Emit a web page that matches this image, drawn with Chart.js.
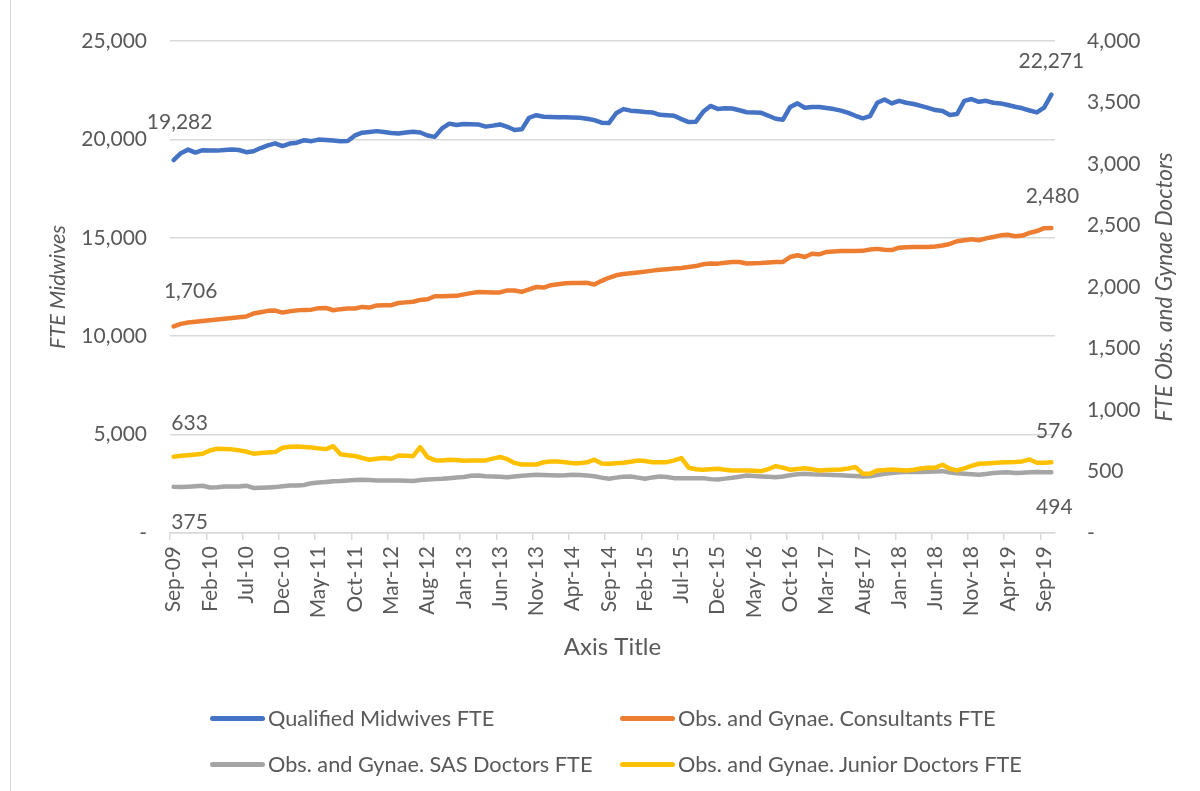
<!DOCTYPE html>
<html>
<head>
<meta charset="utf-8">
<script src="https://cdn.jsdelivr.net/npm/chart.js@4.4.1/dist/chart.umd.min.js"></script>
<style>
  body { margin: 0; background: #fff; font-family: Lato, sans-serif; }
  #wrap { position: relative; width: 1200px; height: 791px; overflow: hidden; }
  #chart { position: absolute; left: 0; top: 0; }
  #frame { position: absolute; left: 10px; top: 0; width: 0; height: 791px; border-left: 1.5px solid #d9d9d9; }
  .item { position: absolute; display: flex; align-items: center; transform: translateY(-50%);
          font: 21.7px Lato, sans-serif; color: #595959; white-space: nowrap; }
  .swatch { display: inline-block; width: 55px; height: 5px; border-radius: 3px; margin-right: 3px; }
</style>
</head>
<body>
<div id="wrap">
  <div id="frame"></div>
  <canvas id="chart" width="1200" height="791"></canvas>
  <div id="legend"></div>
</div>
<script>
// Series, monthly Sep-09 .. Oct-19
const midwives = [
  18950, 19300, 19480, 19330, 19450, 19440, 19430, 19460, 19490, 19460,
  19350, 19400, 19560, 19700, 19800, 19660, 19790, 19830, 19960, 19910,
  19990, 19970, 19940, 19910, 19920, 20200, 20340, 20380, 20420, 20380,
  20330, 20300, 20350, 20390, 20350, 20200, 20130, 20560, 20800, 20730,
  20780, 20770, 20760, 20650, 20700, 20760, 20640, 20480, 20510, 21100,
  21230, 21150, 21140, 21120, 21120, 21110, 21100, 21050, 20980, 20850,
  20830, 21330, 21540, 21460, 21430, 21390, 21370, 21250, 21230, 21200,
  21030, 20880, 20900, 21400, 21700, 21550, 21580, 21570, 21480, 21380,
  21370, 21350, 21200, 21050, 21000, 21650, 21830, 21610, 21650, 21650,
  21600, 21540, 21460, 21350, 21200, 21070, 21180, 21860, 22030, 21830,
  21960, 21860, 21800, 21700, 21600, 21490, 21440, 21240, 21290, 21960,
  22050, 21910, 21960, 21860, 21830, 21750, 21660, 21580, 21470, 21370,
  21620, 22271
];
const consultants = [
  1680, 1700, 1712, 1718, 1724, 1729, 1735, 1742, 1748, 1754,
  1760, 1784, 1795, 1806, 1808, 1792, 1802, 1810, 1814, 1816,
  1828, 1830, 1811, 1820, 1825, 1825, 1838, 1833, 1850, 1851,
  1852, 1870, 1875, 1880, 1895, 1900, 1925, 1925, 1926, 1928,
  1940, 1950, 1960, 1958, 1955, 1956, 1972, 1972, 1960, 1980,
  2000, 1995, 2015, 2022, 2030, 2033, 2033, 2034, 2020, 2050,
  2075, 2095, 2105, 2111, 2118, 2125, 2133, 2140, 2145, 2150,
  2155, 2162, 2170, 2185, 2191, 2190, 2198, 2204, 2203, 2191,
  2194, 2196, 2200, 2203, 2204, 2244, 2258, 2244, 2270, 2266,
  2285, 2288, 2292, 2293, 2293, 2294, 2305, 2310, 2302, 2300,
  2320, 2324, 2326, 2326, 2326, 2330, 2338, 2350, 2372, 2380,
  2389, 2380, 2395, 2407, 2420, 2425, 2413, 2418, 2440, 2455,
  2478, 2480
];
const sasDoctors = [
  375, 373, 376, 380, 384, 370, 372, 378, 378, 378,
  385, 366, 368, 370, 373, 380, 387, 387, 390, 405,
  410, 415, 420, 422, 426, 430, 433, 430, 427, 427,
  427, 426, 424, 422, 430, 435, 438, 441, 446, 452,
  456, 465, 468, 462, 460, 457, 454, 460, 466, 470,
  474, 472, 470, 468, 470, 474, 472, 468, 462, 450,
  441, 450, 458, 460, 450, 441, 452, 460, 455, 446,
  446, 446, 446, 446, 438, 435, 442, 449, 458, 468,
  464, 460, 457, 454, 460, 470, 478, 482, 478, 476,
  474, 472, 470, 466, 463, 460, 462, 472, 482, 488,
  494, 495, 495, 495, 498, 500, 503, 492, 486, 482,
  478, 474, 480, 487, 492, 494, 487, 490, 494, 495,
  494, 494
];
const juniorDoctors = [
  620, 628, 633, 638, 644, 671, 685, 682, 680, 672,
  662, 645, 650, 655, 658, 693, 702, 703, 699, 695,
  688, 682, 706, 640, 632, 626, 610, 596, 603, 609,
  604, 630, 628, 625, 698, 617, 592, 590, 595, 594,
  588, 590, 589, 590, 605, 618, 600, 570, 557, 557,
  557, 575, 582, 582, 575, 568, 568, 575, 596, 565,
  563, 567, 571, 580, 590, 585, 576, 576, 576, 590,
  609, 531, 518, 514, 518, 522, 515, 509, 509, 509,
  506, 503, 520, 544, 531, 514, 520, 527, 518, 509,
  512, 515, 517, 524, 536, 482, 482, 509, 512, 517,
  513, 509, 515, 524, 530, 531, 555, 522, 509, 525,
  545, 563, 566, 570, 573, 576, 578, 582, 598, 571,
  571, 576
];

// labelled values (first / last)
const startLabels = [19282, 1706, 375, 633];
const endLabels = [22271, 2480, 494, 576];

const seriesNames = [
  "Qualified Midwives FTE",
  "Obs. and Gynae. Consultants FTE",
  "Obs. and Gynae. SAS Doctors FTE",
  "Obs. and Gynae. Junior Doctors FTE"
];
const seriesColors = ["#4472C4", "#ED7D31", "#A5A5A5", "#FFC000"];

// month categories
const monthNames = ["Jan", "Feb", "Mar", "Apr", "May", "Jun", "Jul", "Aug", "Sep", "Oct", "Nov", "Dec"];
const months = [];
for (let i = 0; i < midwives.length; i++) {
  const m = 8 + i;
  months.push(monthNames[m % 12] + "-" + String(9 + Math.floor(m / 12)).padStart(2, "0"));
}

const textColor = "#595959";
const gridColor = "#d9d9d9";
const tickFont = { family: "Lato", size: 21 };

// label offsets from the point, [dx, dy]
const labelOffsets = [
  { start: [6, -38], end: [0, -33] },
  { start: [17, -35], end: [1, -32] },
  { start: [16, 35], end: [3, 35] },
  { start: [16, -34], end: [3, -31] }
];

const labelPlugin = {
  id: "valueLabels",
  afterDatasetsDraw(chart) {
    const ctx = chart.ctx;
    ctx.save();
    ctx.font = "21px Lato";
    ctx.fillStyle = textColor;
    ctx.textAlign = "center";
    ctx.textBaseline = "middle";
    chart.data.datasets.forEach((ds, d) => {
      const pts = chart.getDatasetMeta(d).data;
      const first = pts[0];
      const last = pts[pts.length - 1];
      const o = labelOffsets[d];
      ctx.fillText(startLabels[d].toLocaleString("en-US"), first.x + o.start[0], first.y + o.start[1]);
      ctx.fillText(endLabels[d].toLocaleString("en-US"), last.x + o.end[0], last.y + o.end[1]);
    });
    // secondary axis title, reads bottom to top like the primary one
    const area = chart.chartArea;
    ctx.font = "italic 22.5px Lato";
    ctx.translate(chart.scales.y1.right - 35, (area.top + area.bottom) / 2);
    ctx.rotate(-Math.PI / 2);
    ctx.fillText("FTE Obs. and Gynae Doctors", 0, 0);
    ctx.restore();
  }
};

const datasets = [midwives, consultants, sasDoctors, juniorDoctors].map((values, i) => ({
  label: seriesNames[i],
  data: values,
  yAxisID: i === 0 ? "y" : "y1",
  borderColor: seriesColors[i],
  backgroundColor: seriesColors[i],
  borderWidth: 4.5,
  borderCapStyle: "round",
  borderJoinStyle: "round",
  pointRadius: 0,
  tension: 0,
  order: 4 - i
}));

new Chart(document.getElementById("chart"), {
  type: "line",
  data: { labels: months, datasets: datasets },
  options: {
    responsive: false,
    animation: false,
    layout: { padding: { top: 41, bottom: 128, left: 0, right: 0 } },
    plugins: {
      legend: { display: false },
      tooltip: { enabled: false }
    },
    scales: {
      x: {
        type: "category",
        offset: true,
        grid: {
          offset: true,
          drawOnChartArea: false,
          tickLength: 7,
          lineWidth: 1.5,
          color: ctx => (ctx.index % 5 === 0 ? gridColor : "rgba(0,0,0,0)")
        },
        border: { color: gridColor, width: 1.5 },
        ticks: {
          autoSkip: false,
          minRotation: 90,
          maxRotation: 90,
          padding: 6,
          color: textColor,
          font: tickFont,
          callback: (v, i) => (i % 5 === 0 ? months[i] : "")
        },
        title: {
          display: true,
          text: "Axis Title",
          color: textColor,
          font: { family: "Lato", size: 24 },
          padding: { top: 0, bottom: 1 }
        },
        afterFit: s => { s.height = 130; }
      },
      y: {
        position: "left",
        min: 0,
        max: 25000,
        grid: { color: gridColor, lineWidth: 1.5, drawTicks: false },
        border: { display: false },
        ticks: {
          stepSize: 5000,
          padding: 23,
          color: textColor,
          font: tickFont,
          callback: v => (v === 0 ? "-" : v.toLocaleString("en-US"))
        },
        title: {
          display: true,
          text: "FTE Midwives",
          color: textColor,
          font: { family: "Lato", size: 21.5, style: "italic" },
          padding: { top: 45, bottom: 0 }
        },
        afterFit: s => { s.width = 170; }
      },
      y1: {
        position: "right",
        min: 0,
        max: 4000,
        grid: { drawOnChartArea: false, drawTicks: false },
        border: { display: false },
        ticks: {
          stepSize: 500,
          padding: 32,
          color: textColor,
          // small lineHeight so the label padding does not push the plot top down
          font: { family: "Lato", size: 21, lineHeight: 0.8 },
          callback: v => (v === 0 ? "-" : v.toLocaleString("en-US"))
        },
        afterFit: s => { s.width = 145; }
      }
    }
  },
  plugins: [labelPlugin]
});

// legend in two columns, like the original
const legendPos = [[210, 718], [620, 718], [210, 764], [620, 764]];
const legend = document.getElementById("legend");
seriesNames.forEach((name, i) => {
  const item = document.createElement("div");
  item.className = "item";
  item.style.left = legendPos[i][0] + "px";
  item.style.top = legendPos[i][1] + "px";
  const sw = document.createElement("span");
  sw.className = "swatch";
  sw.style.background = seriesColors[i];
  item.appendChild(sw);
  item.appendChild(document.createTextNode(name));
  legend.appendChild(item);
});
</script>
</body>
</html>
